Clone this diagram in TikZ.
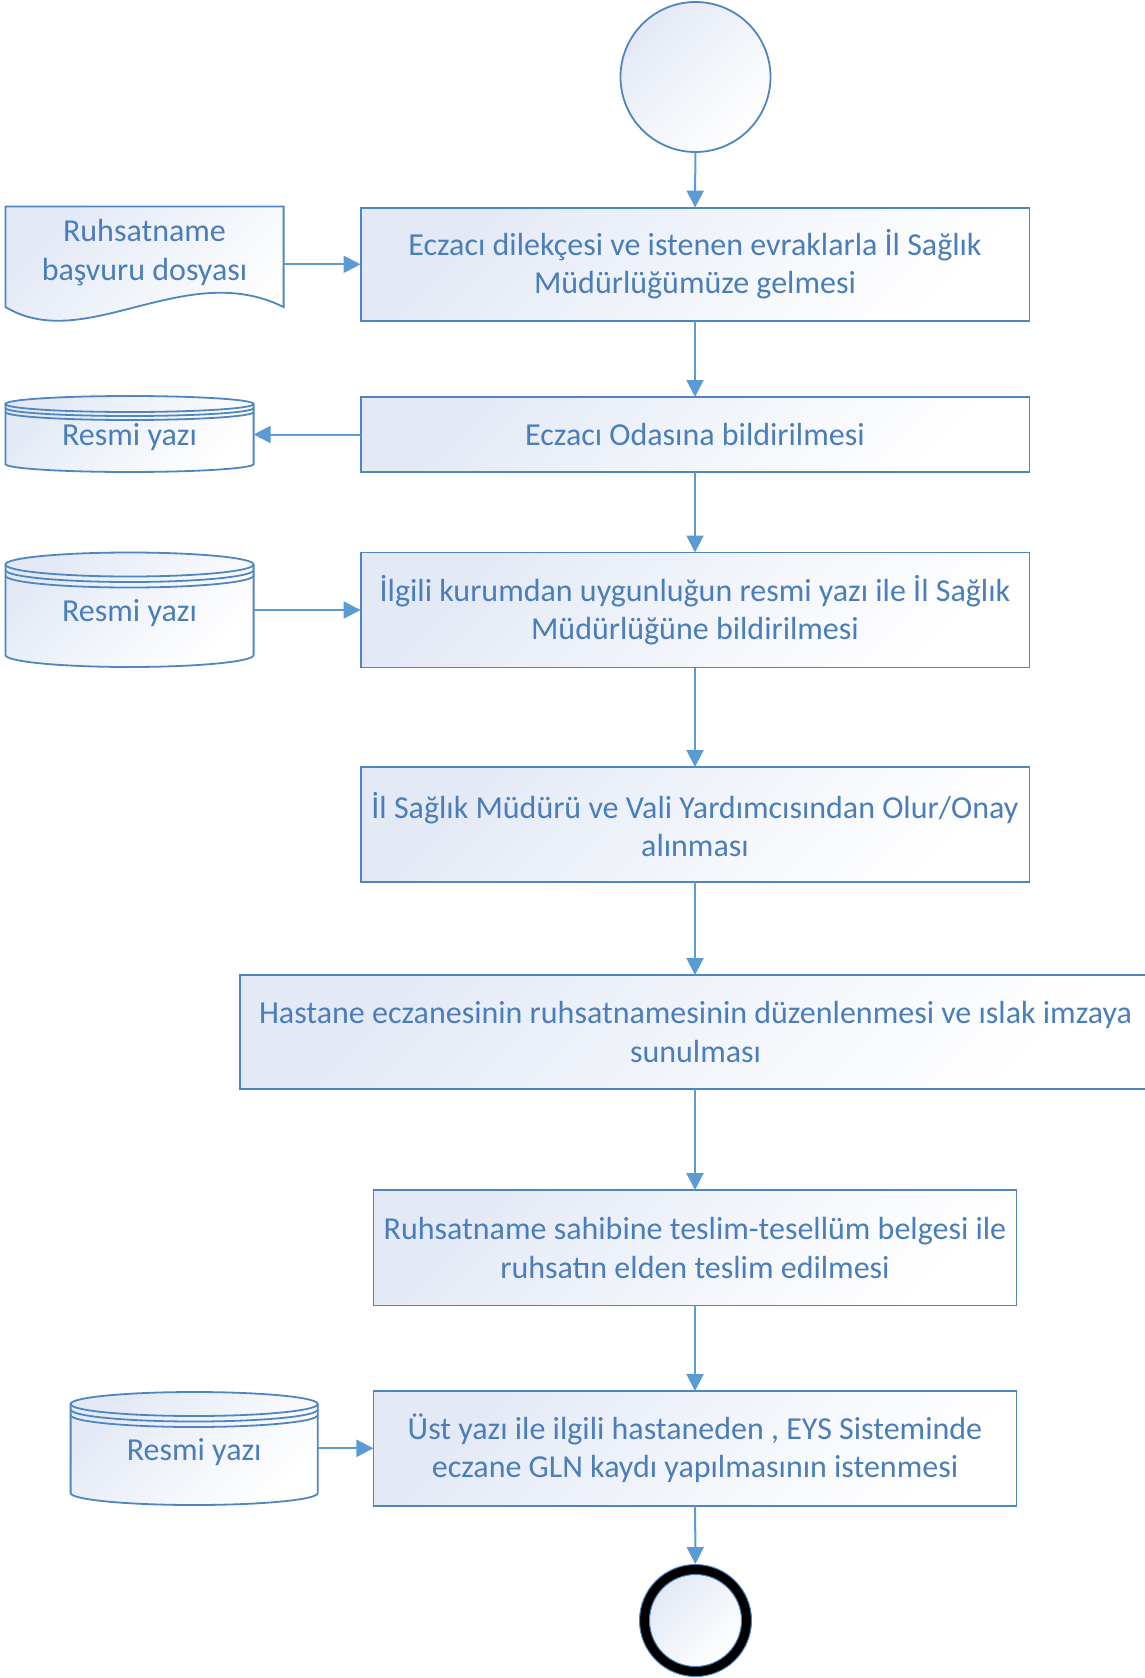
\documentclass[tikz,border=0pt]{standalone}
\usepackage{fontspec}
\setmainfont{Carlito}
\usetikzlibrary{arrows.meta}
\definecolor{txtc}{HTML}{4A7EBB}
\definecolor{linec}{HTML}{4F86C2}
\definecolor{arrc}{HTML}{5B9BD5}
\definecolor{gradc}{HTML}{E3E9F5}
\tikzset{
  shapefill/.style={top color=gradc, bottom color=white, shading angle=45},
  shapeline/.style={draw=linec, line width=1.8pt},
  box/.style={shapefill, shapeline, rectangle, inner sep=0pt, outer sep=0pt, align=center, text=txtc, font=\fontsize{32}{38.5}\selectfont},
  txt/.style={inner sep=0pt, outer sep=0pt, align=center, text=txtc, font=\fontsize{32}{38.5}\selectfont},
  flow/.style={draw=arrc, line width=2pt, -{Triangle[length=17pt,width=17pt]}}
}
\newcommand\mycyl[8]{%
  \pgfmathsetmacro\cx{(#2+#3)/2}%
  \pgfmathsetmacro\rx{(#3-#2)/2}%
  \path[shapefill] (#2,{#4+#6}) -- (#2,{#5-#6}) arc[start angle=180,end angle=360,x radius=\rx pt,y radius=#6pt] -- (#3,{#4+#6}) arc[start angle=0,end angle=180,x radius=\rx pt,y radius=#6pt] -- cycle;
  \draw[shapeline] (#2,{#4+#6}) -- (#2,{#5-#6}) arc[start angle=180,end angle=360,x radius=\rx pt,y radius=#6pt] -- (#3,{#4+#6});
  \draw[shapeline] (\cx,{#4+#6}) ellipse[x radius=\rx pt,y radius=#6pt];
  \draw[shapeline] (#2,{#4+#6+#7}) arc[start angle=180,end angle=360,x radius=\rx pt,y radius=#6pt];
  \draw[shapeline] (#2,{#4+#6+2*#7}) arc[start angle=180,end angle=360,x radius=\rx pt,y radius=#6pt];
  \node[txt, minimum width={#3-#2}, minimum height={#5-#4}] (#1) at (\cx,{(#4+#5)/2+3.5}) {#8};
}
\begin{document}
\begin{tikzpicture}[x=1pt,y=-1pt]
\useasboundingbox (0,0) rectangle (1145,1678);
\clip (0,0) rectangle (1145,1678);
\fill[white] (0,0) rectangle (1145,1678);

% start
\node[circle, shapefill, shapeline, minimum size=150pt, inner sep=0pt, outer sep=0pt] (start) at (695.5,77) {};

% boxes
\node[box, minimum width=668.8pt, minimum height=113.4pt] (b1) at (695,264.3) {Eczacı dilekçesi ve istenen evraklarla İl Sağlık\\Müdürlüğümüze gelmesi};
\node[box, minimum width=668.8pt, minimum height=75pt] (b2) at (695,434.5) {Eczacı Odasına bildirilmesi};
\node[box, minimum width=668.8pt, minimum height=115pt] (b3) at (695,610) {İlgili kurumdan uygunluğun resmi yazı ile İl Sağlık\\Müdürlüğüne bildirilmesi};
\node[box, minimum width=668.8pt, minimum height=115pt] (b4) at (695,824.5) {İl Sağlık Müdürü ve Vali Yardımcısından Olur/Onay\\alınması};
\node[box, minimum width=911.8pt, minimum height=114pt] (b5) at (695.6,1032) {Hastane eczanesinin ruhsatnamesinin düzenlenmesi ve ıslak imzaya\\sunulması};
\node[box, minimum width=643.1pt, minimum height=115.5pt] (b6) at (695,1247.8) {Ruhsatname sahibine teslim-tesellüm belgesi ile\\ruhsatın elden teslim edilmesi};
\node[box, minimum width=643.1pt, minimum height=114.6pt] (b7) at (695,1448.3) {Üst yazı ile ilgili hastaneden , EYS Sisteminde\\eczane GLN kaydı yapılmasının istenmesi};

% document shape
\path[shapefill] (5.4,206.5) -- (283.6,206.5) -- (283.6,307) .. controls (185,258) and (85,355) .. (5.4,307) -- cycle;
\draw[shapeline] (5.4,206.5) -- (283.6,206.5) -- (283.6,307) .. controls (185,258) and (85,355) .. (5.4,307) -- cycle;
\node[txt, minimum width=278.2pt] (doc) at (144.5,252.5) {Ruhsatname\\başvuru dosyası};

% stores
\mycyl{c1}{5.4}{253.6}{396}{472}{8}{4}{Resmi yazı}
\mycyl{c2}{5.4}{253.6}{552.5}{667}{12}{5.5}{Resmi yazı}
\mycyl{c3}{70.6}{317.8}{1392}{1505}{12}{5.5}{Resmi yazı}

% end
\node[circle, minimum size=113pt, inner sep=0pt, outer sep=0pt] (end) at (695.5,1620.5) {};
\fill[shapefill] (end.center) circle[radius=46pt];
\draw[black, line width=10pt] (end.center) circle[radius=51pt];
\draw[linec, line width=1pt] (end.center) circle[radius=56pt];
\draw[linec, line width=1pt] (end.center) circle[radius=46pt];

% connectors
\draw[flow] (start) -- (b1);
\draw[flow] (doc.east |- b1.west) -- (b1.west);
\draw[flow] (b1) -- (b2);
\draw[flow] (b2.west) -- (c1.east |- b2.west);
\draw[flow] (b2) -- (b3);
\draw[flow] (c2.east |- b3.west) -- (b3.west);
\draw[flow] (b3) -- (b4);
\draw[flow] (b4) -- (b5.north -| b4.south);
\draw[flow] (b5.south -| b4.south) -- (b6);
\draw[flow] (b6) -- (b7);
\draw[flow] (c3.east |- b7.west) -- (b7.west);
\draw[flow] (b7) -- (end);
\end{tikzpicture}
\end{document}
